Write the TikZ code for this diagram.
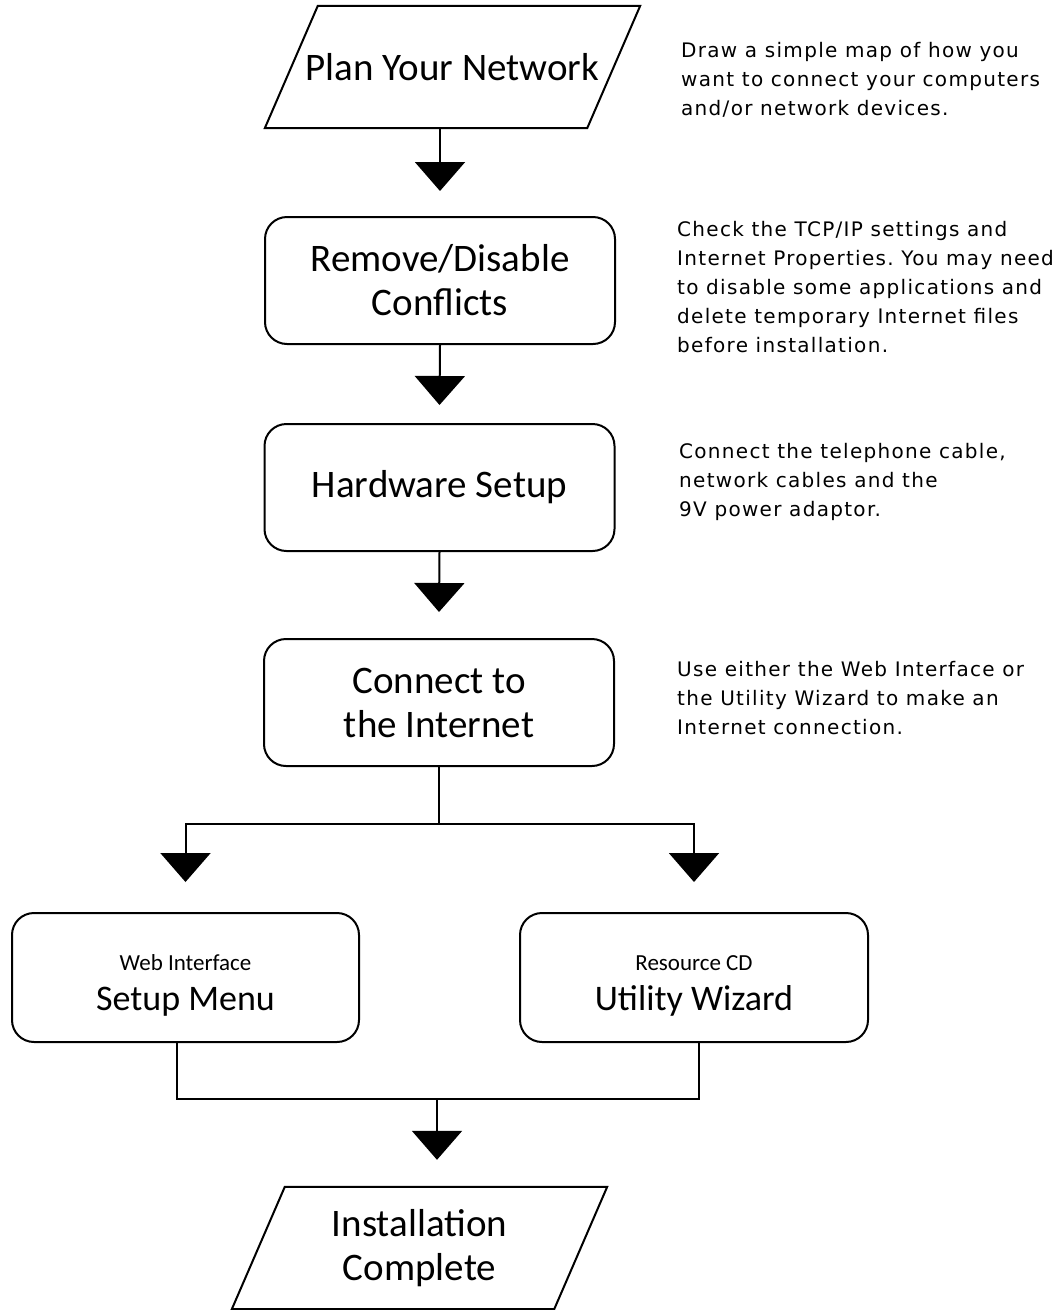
\documentclass[tikz,border=0pt]{standalone}
\usepackage{fontspec}
\setmainfont{Carlito}
\newfontfamily\notefont[LetterSpace=6.5]{DejaVu Sans}
\usetikzlibrary{arrows.meta,positioning}

\begin{document}
\frenchspacing
\begin{tikzpicture}[x=1pt, y=-1pt, font=\fontsize{39}{44}\selectfont,
  stepbox/.style={draw, line width=2pt, rounded corners=22pt, minimum width=350pt, minimum height=127pt, align=center, inner sep=0pt},
  iobox/.style={minimum width=375pt, minimum height=122pt, align=center, inner sep=0pt},
  note/.style={anchor=north west, align=left, inner sep=0pt, font=\notefont\fontsize{20}{29}\selectfont},
  line/.style={line width=2pt},
  flow/.style={line, -{Triangle[length=29pt, width=50pt]}}]
  \useasboundingbox (0,0) rectangle (1061,1310);
  \node[iobox] (plan) at (452.5,67) {Plan Your Network};
  \node[stepbox] (remove) at (440,280.5) {Remove/Disable\\Conflicts};
  \node[stepbox] (hardware) at (439.5,487.5) {Hardware Setup};
  \node[stepbox] (connect) at (439,702.5) {Connect to\\the Internet};
  \node[stepbox, minimum width=347pt, minimum height=129pt, font=\fontsize{36}{40}\selectfont] (web) at (185.5,977.5) {{\fontsize{23}{28}\selectfont\rule{0pt}{31pt}Web Interface}\\Setup Menu};
  \node[stepbox, minimum width=348pt, minimum height=129pt, font=\fontsize{36}{40}\selectfont] (wizard) at (694,977.5) {{\fontsize{23}{28}\selectfont\rule{0pt}{31pt}Resource CD}\\Utility Wizard};
  \node[iobox] (install) at (419.5,1248) {Installation\\Complete};
  \foreach \n in {plan, install}
    \draw[line] (\n.south west) -- ([xshift=53pt]\n.north west) -- (\n.north east) -- ([xshift=-53pt]\n.south east) -- cycle;
  \node[note] (note1) at (681,42) {Draw a simple map of how you\\want to connect your computers\\and/or network devices.};
  \node[note] (note2) at (677,221) {Check the TCP/IP settings and\\Internet Properties. You may need\\to disable some applications and\\delete temporary Internet files\\before installation.};
  \node[note] (note3) at (679,443) {Connect the telephone cable,\\network cables and the\\9V power adaptor.};
  \node[note] (note4) at (677,661) {Use either the Web Interface or\\the Utility Wizard to make an\\Internet connection.};
  \coordinate (split) at (439,824);
  \coordinate (join) at (437,1099);
  \draw[flow] (plan.south -| remove) -- ([yshift=25pt]remove.north);
  \draw[flow] (remove.south) -- ([yshift=18pt]hardware.north);
  \draw[flow] (hardware.south) -- ([yshift=26pt]connect.north);
  \draw[line] (connect.south) -- (split);
  \draw[flow] (split) -| ([yshift=30pt]web.north);
  \draw[flow] (split) -| ([yshift=30pt]wizard.north);
  \draw[line] ([xshift=-9pt]web.south) |- (join) -| ([xshift=5pt]wizard.south);
  \draw[flow] (join) -- ([yshift=27pt]install.north -| join);
\end{tikzpicture}
\end{document}
